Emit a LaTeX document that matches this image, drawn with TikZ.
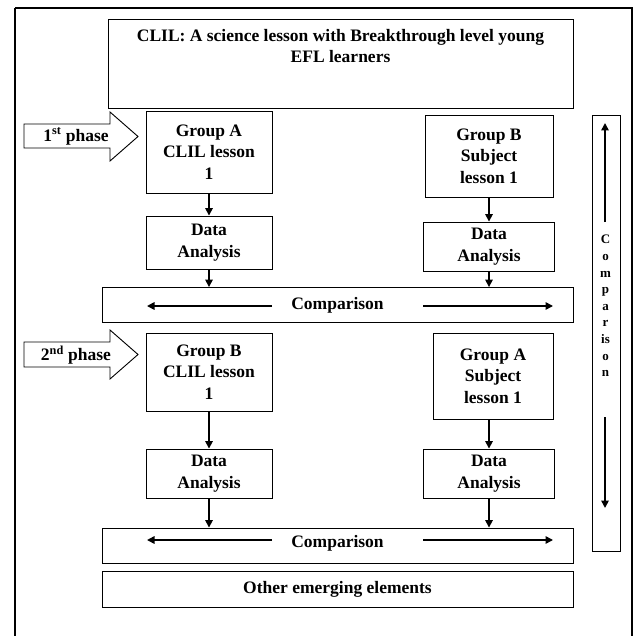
\documentclass[tikz,border=0pt]{standalone}
\usepackage{fontspec}
\setmainfont{Liberation Serif}
\usetikzlibrary{arrows.meta}
\begin{document}
\begin{tikzpicture}[x=1pt,y=-1pt,
  box/.style={draw,line width=0.9pt,align=center,inner sep=0pt,font=\fontsize{17.5}{21.5}\selectfont\bfseries},
  txt/.style={align=center,inner sep=0pt,font=\fontsize{17.5}{21.5}\selectfont\bfseries},
  vtxt/.style={align=center,inner sep=0pt,font=\fontsize{13}{16.6}\selectfont\bfseries},
  flow/.style={line width=1.6pt,-{Triangle[width=7.5pt,length=7.5pt]}},
  phase/.style={draw,line width=0.9pt,fill=white}]
\useasboundingbox (0,0) rectangle (635,636);
\draw[line width=1.6pt] (15,8) -- (15,660) (15,8) -- (632,8) -- (632,660);
% title
\node[box,minimum width=465pt,minimum height=89pt] (title) at (340.5,63.5) {};
\node[txt] (titletext) at (340.5,46) {CLIL: A science lesson with Breakthrough level young\\EFL learners};
% phase 1
\node[box,minimum width=126pt,minimum height=82pt] (gAc1) at (209,152) {Group A\\CLIL lesson\\1};
\node[box,minimum width=126pt,minimum height=53pt] (da1L) at (209,242.5) {Data\\Analysis};
\node[box,minimum width=128pt,minimum height=82pt] (gBs1) at (489,156) {Group B\\Subject\\lesson 1};
\node[box,minimum width=131pt,minimum height=49pt] (da1R) at (489,246.5) {Data\\Analysis};
\node[box,minimum width=471pt,minimum height=35pt] (cmp1) at (337.5,305) {};
\node[txt] (cmp1t) at (337.5,305) {Comparison};
% phase 2
\node[box,minimum width=126pt,minimum height=78pt] (gBc1) at (209,372) {Group B\\CLIL lesson\\1};
\node[box,minimum width=126pt,minimum height=49pt] (da2L) at (209,473.5) {Data\\Analysis};
\node[box,minimum width=120pt,minimum height=86pt] (gAs1) at (493,376) {Group A\\Subject\\lesson 1};
\node[box,minimum width=131pt,minimum height=49pt] (da2R) at (489,473.5) {Data\\Analysis};
\node[box,minimum width=471pt,minimum height=35pt] (cmp2) at (337.5,545.5) {};
\node[txt] (cmp2t) at (337.5,543.5) {Comparison};
\node[box,minimum width=471pt,minimum height=36pt] (other) at (337.5,589) {Other emerging elements};
% vertical comparison column
\node[box,minimum width=28pt,minimum height=436pt] (vcmp) at (606,333) {};
\node[vtxt] (vcmpt) at (605.5,306) {C\\o\\m\\p\\a\\r\\is\\o\\n};
\coordinate (vu1) at (605,222); \coordinate (vu2) at (605,123);
\coordinate (vd1) at (605,417); \coordinate (vd2) at (605,508);
\draw[flow] (vu1) -- (vu2);
\draw[flow] (vd1) -- (vd2);
% phase arrows
\draw[phase] (24,124) -- (110,124) -- (110,112) -- (138,136.5) -- (110,161) -- (110,148) -- (24,148) -- cycle;
\node[txt] (ph1) at (76,136.5) {1\textsuperscript{st} phase};
\draw[phase] (24,342) -- (110,342) -- (110,330) -- (138,354.5) -- (110,379) -- (110,367) -- (24,367) -- cycle;
\node[txt] (ph2) at (76,355) {2\textsuperscript{nd} phase};
% vertical flow arrows
\draw[flow] (gAc1.south) -- (da1L.north);
\draw[flow] (da1L.south) -- (da1L.south |- cmp1.north);
\draw[flow] (gBs1.south) -- (da1R.north);
\draw[flow] (da1R.south) -- (da1R.south |- cmp1.north);
\draw[flow] (gBc1.south) -- (da2L.north);
\draw[flow] (da2L.south) -- (da2L.south |- cmp2.north);
\draw[flow] (gAs1.south -| da2R.north) -- (da2R.north);
\draw[flow] (da2R.south) -- (da2R.south |- cmp2.north);
% horizontal comparison arrows
\coordinate (c1a) at (272,306); \coordinate (c1b) at (147,306);
\coordinate (c1c) at (423,306); \coordinate (c1d) at (553,306);
\draw[flow] (c1a) -- (c1b);
\draw[flow] (c1c) -- (c1d);
\coordinate (c2a) at (272,540); \coordinate (c2b) at (147,540);
\coordinate (c2c) at (423,540); \coordinate (c2d) at (553,540);
\draw[flow] (c2a) -- (c2b);
\draw[flow] (c2c) -- (c2d);
\end{tikzpicture}
\end{document}
